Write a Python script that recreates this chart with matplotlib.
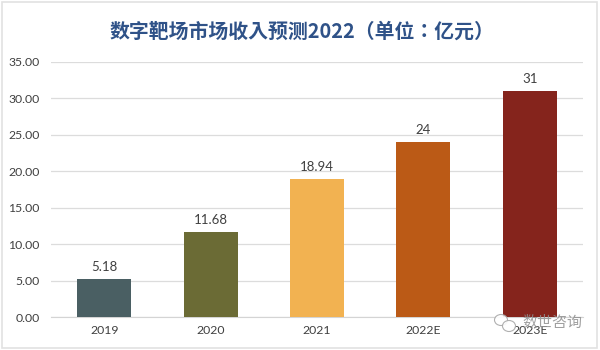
#!/usr/bin/env python
import matplotlib
matplotlib.use('Agg')
import matplotlib.pyplot as plt
from matplotlib.patches import Ellipse, Rectangle

plt.rcParams['font.family'] = ['Lato', 'Noto Sans CJK SC', 'DejaVu Sans']

# 数据
years = ['2019', '2020', '2021', '2022E', '2023E']
revenue = [5.18, 11.68, 18.94, 24, 31]
bar_labels = ['5.18', '11.68', '18.94', '24', '31']
bar_colors = ['#4a5f63', '#6b6b35', '#f2b251', '#bb5a16', '#85241c']
y_ticks = [0, 5, 10, 15, 20, 25, 30, 35]
title = '数字靶场市场收入预测2022（单位：亿元）'
W, H = 600, 350

fig = plt.figure(figsize=(W / 100, H / 100), dpi=100)
ax = fig.add_axes([51 / W, 1 - 317 / H, 532 / W, 255 / H])

ax.bar(years, revenue, width=0.507, color=bar_colors, zorder=2)
ax.set_xlim(-0.5, 4.5)
ax.set_ylim(0, 35)
ax.set_yticks(y_ticks)
ax.set_yticklabels([f'{v:.2f}' for v in y_ticks])
ax.grid(axis='y', color='#dcdcdc', lw=0.9, zorder=0)
ax.tick_params(length=0, labelsize=8.8, labelcolor='#404040')
ax.tick_params(axis='x', pad=6)
ax.tick_params(axis='y', pad=8)
for s in ['top', 'left', 'right']:
    ax.spines[s].set_visible(False)
ax.spines['bottom'].set_color('#d4d4d4')
ax.spines['bottom'].set_zorder(1)

for i, v in enumerate(revenue):
    ax.annotate(bar_labels[i], (i, v), xytext=(0, 4.5), textcoords='offset points',
                ha='center', va='bottom', fontsize=9.5, color='#404040')

fig.text(302 / W, 1 - 31 / H, title, ha='center', va='center', fontsize=14.3,
         fontweight='bold', color='#2f5288',
         family=['Noto Sans CJK TC', 'DejaVu Sans'])

# 外框
fig.add_artist(Rectangle((2 / W, 2 / H), 595 / W, 346 / H, transform=fig.transFigure,
                         fill=False, ec='#e2e2e2', lw=1.2))

# 水印
fig.text(522 / W, 1 - 323 / H, '数世咨询', ha='left', va='center', fontsize=10.8,
         color='#8f8f8f', alpha=0.85, zorder=5,
         family=['Noto Sans CJK SC', 'DejaVu Sans'])
for cx, cy, w, h in [(501, 320, 13, 11), (509, 326, 13, 11)]:
    fig.add_artist(Ellipse((cx / W, 1 - cy / H), w / W, h / H, transform=fig.transFigure,
                           fc='#ffffff', ec='#a8a8a8', lw=0.8, alpha=0.9))

fig.savefig('out.png', dpi=100)
